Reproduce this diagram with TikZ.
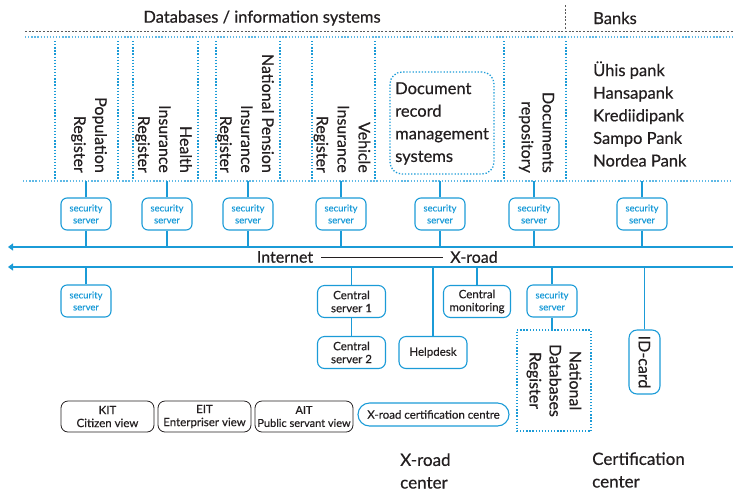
\documentclass[tikz,border=0pt]{standalone}
\usepackage{fontspec}
\setmainfont{Lato}[FakeBold=0.5]
\usetikzlibrary{arrows.meta}
\definecolor{xblue}{RGB}{27,155,215}
\definecolor{paleblue}{RGB}{95,185,230}
\definecolor{ink}{RGB}{35,31,32}
\definecolor{rulegray}{RGB}{90,90,90}

\begin{document}
\begin{tikzpicture}[x=1pt,y=-1pt,
  every node/.style={inner sep=0pt, text=ink},
  dotline/.style={draw=xblue, line width=1.3pt, dash pattern=on 1.3pt off 1.8pt},
  paledot/.style={draw=paleblue, line width=1.3pt, dash pattern=on 1.3pt off 1.8pt},
  grayline/.style={draw=rulegray, line width=0.8pt, dash pattern=on 2pt off 1.6pt},
  wire/.style={xblue, line width=1.1pt},
  secsrv/.style={draw=xblue, line width=1.1pt, rounded corners=6pt, minimum width=50pt,
    minimum height=32pt, text=xblue, font=\fontsize{9.5}{12}\selectfont, align=center},
  cbox/.style={draw=xblue, line width=1.1pt, rounded corners=7pt, minimum height=32pt,
    font=\fontsize{11.5}{13}\selectfont, align=center},
  viewbox/.style={draw=ink, line width=0.8pt, rounded corners=7pt, minimum height=31pt,
    font=\fontsize{11.5}{13}\selectfont, align=center},
  head/.style={font=\fontsize{16.5}{18}\selectfont},
  big/.style={font=\fontsize{16.5}{22.6}\selectfont, align=left},
  vert/.style={rotate=-90, font=\fontsize{16}{21}\selectfont, align=right, anchor=east},
]
\useasboundingbox (0,0) rectangle (733,491);

% ---- headings and top rules ----
\node[head] (dbtitle) at (262,18) {Databases / information systems};
\node[head] (banks) at (615,18) {Banks};
\coordinate (sepT) at (565,5);
\coordinate (sepB) at (565,30);
\draw[grayline] (sepT) -- (sepB);
\coordinate (grayL) at (25,31);
\coordinate (grayR) at (733,31);
\draw[grayline] (grayL) -- (grayR);
\coordinate (blueL) at (25,37);
\coordinate (blueR) at (733,37);
\draw[paledot] (blueL) -- (blueR);
\coordinate (dbL) at (23,181);
\coordinate (dbR) at (733,181);
\draw[paledot] (dbL) -- (dbR);

% column separators
\foreach \cx in {55,118,133,198,216,280,312,375,504,566}{
  \draw[dotline] (\cx,41) -- (\cx,179);
}

% ---- databases ----
\node[vert] (pop) at (89,173) {Population\\Register};
\node[vert] (health) at (163.5,173) {Health\\Insurance\\Register};
\node[vert] (pension) at (245.5,173) {National Pension\\Insurance\\Register};
\node[vert] (vehicle) at (342,173) {Vehicle\\Insurance\\Register};
\node[vert] (docrep) at (536.5,173) {Documents\\repository};

\node[dotline, rounded corners=12pt, minimum width=104pt, minimum height=102pt] (drmbox) at (442,123) {};
\node[big, anchor=west] (drm) at (395,123.5) {Document\\record\\management\\systems};

\node[big, anchor=west] (banklist) at (593,114) {Ühis pank\\Hansapank\\Krediidipank\\Sampo Pank\\Nordea Pank};

% ---- security servers above the network ----
\coordinate (net) at (0,247);
\coordinate (xr) at (0,267);
\foreach \n/\sx in {s1/86,s2/167,s3/248,s4/341,s5/440,s6/534,s7/642}{
  \node[secsrv] (\n) at (\sx,214) {security\\server};
  \draw[wire] (\n.north) -- (\n.north |- dbL);
  \draw[wire] (\n.south) -- (\n.south |- net);
}

% ---- network lines ----
\coordinate (netR) at (733,247);
\coordinate (netL) at (8,247);
\coordinate (xrR) at (733,267);
\coordinate (xrL) at (8,267);
\draw[wire, -{Triangle[length=5pt,width=7pt]}] (netR) -- (netL);
\draw[wire, -{Triangle[length=5pt,width=7pt]}] (xrR) -- (xrL);
\node[font=\fontsize{16}{18}\selectfont] (inet) at (285,257) {Internet};
\node[font=\fontsize{16}{18}\selectfont] (xroad) at (474,257) {X-road};
\draw[ink, line width=0.7pt] ([xshift=8pt]inet.east) -- ([xshift=-7pt]xroad.west);

% ---- below the X-road ----
\node[secsrv] (s8) at (86,301) {security\\server};
\draw[wire] (s8.north) -- (s8.north |- xr);

\node[cbox, minimum width=68pt] (cs1) at (351.5,301.5) {Central\\server 1};
\node[cbox, minimum width=68pt] (cs2) at (351.5,352.5) {Central\\server 2};
\draw[wire] (cs1.north) -- (cs1.north |- xr);
\draw[wire] (cs1.south) -- (cs2.north);

\node[cbox, minimum width=68pt] (help) at (433,352.5) {Helpdesk};
\draw[wire] (help.north) -- (help.north |- xr);

\node[cbox, minimum width=67pt] (mon) at (477,301.5) {Central\\monitoring};
\draw[wire] (mon.north) -- (mon.north |- xr);

\node[secsrv] (s9) at (552,301) {security\\server};
\draw[wire] (s9.north) -- (s9.north |- xr);
\node[dotline, rotate=-90, minimum width=101pt, minimum height=74pt, align=center,
  font=\fontsize{16}{20}\selectfont] (ndr) at (554,380.5) {National\\Databases\\Register};
\draw[wire] (s9.south) -- (s9.south |- ndr.west);

\node[draw=xblue, line width=1.1pt, rounded corners=8pt, rotate=-90, minimum width=64pt,
  minimum height=31pt, font=\fontsize{16}{18}\selectfont] (idcard) at (644.5,362) {ID-card};
\draw[wire] (idcard.west) -- (idcard.west |- xr);

% ---- portals and certification ----
\node[viewbox, minimum width=93pt] (kit) at (107.5,416.5) {KIT\\Citizen view};
\node[viewbox, minimum width=93pt] (eit) at (204.5,416.5) {EIT\\Enterpriser view};
\node[viewbox, minimum width=98pt, font=\fontsize{11}{13}\selectfont] (ait) at (304,416.5) {AIT\\Public servant view};
\node[draw=xblue, line width=1.1pt, rounded corners=11.5pt, minimum width=151pt,
  minimum height=23pt, font=\fontsize{11.5}{13}\selectfont] (cert) at (433.5,414.5) {X-road certification centre};

\node[big, anchor=west, font=\fontsize{17}{22.6}\selectfont] (xrc) at (400,471) {X-road\\center};
\node[big, anchor=west, font=\fontsize{17}{22.6}\selectfont] (certc) at (592,470) {Certification\\center};
\end{tikzpicture}
\end{document}
